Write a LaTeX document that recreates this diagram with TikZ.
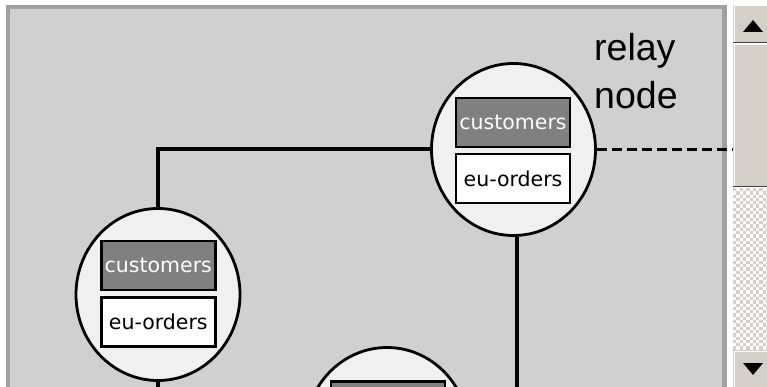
\documentclass[tikz,border=0pt]{standalone}
\usepackage{fontspec}
\newfontfamily\dejavu{DejaVu Sans}
\newfontfamily\libsans{Liberation Sans}
\usetikzlibrary{shapes.geometric}
\definecolor{panelfill}{HTML}{D0D0D0}
\definecolor{panelborder}{HTML}{A0A0A0}
\definecolor{nodefill}{HTML}{F0F0F0}
\definecolor{custfill}{HTML}{808080}
\definecolor{sbfill}{HTML}{D4D0C8}
\definecolor{sbdark}{HTML}{404040}
\begin{document}
\begin{tikzpicture}[x=1pt,y=-1pt,
  server/.style={ellipse, draw=black, line width=2.8pt, fill=nodefill, minimum width=164pt, minimum height=172pt, inner sep=0pt},
  custbox/.style={rectangle, draw=black, line width=2.5pt, fill=custfill, text=white, minimum width=114pt, minimum height=49pt, inner sep=0pt, font=\dejavu\fontsize{20.5}{24}\selectfont},
  eubox/.style={custbox, fill=white, text=black},
  link/.style={line width=4pt},
  relaylink/.style={line width=3.5pt, dash pattern=on 10pt off 5pt},
  sbbox/.style={fill=sbfill},
  sbhi/.style={draw=white, line width=1pt},
  sbline/.style={draw=sbdark, line width=1.2pt}
]
\useasboundingbox (0,0) rectangle (767,387);
\clip (0,0) rectangle (767,387);
\fill[white] (0,0) rectangle (767,387);
% panel
\fill[panelborder] (6,5) rectangle (727,390);
\fill[panelfill] (10,9) rectangle (722,390);
% scrollbar
\fill[sbbox] (733,5) rectangle (770,43);
\draw[sbhi] (734,43) -- (734,6) -- (770,6);
\draw[sbline] (733,42.5) -- (770,42.5);
\fill[black] (743,32) -- (763,32) -- (753,20) -- cycle;
\fill[sbbox] (733,44) rectangle (770,187);
\draw[sbhi] (734,186) -- (734,45) -- (770,45);
\draw[sbline] (733,186.8) -- (770,186.8);
\begin{scope}
\clip (733,188) rectangle (770,349);
\fill[white] (733,188) rectangle (770,349);
\foreach \j in {0,2,...,50} \foreach \i in {0,2,...,12} {
  \fill[sbfill] (733+\i*3.3, 188+\j*3.3) rectangle ++(3.3,3.3);
  \fill[sbfill] (736.3+\i*3.3, 191.3+\j*3.3) rectangle ++(3.3,3.3);
}
\end{scope}
\fill[sbbox] (733,350) rectangle (770,390);
\draw[sbhi] (734,390) -- (734,351) -- (770,351);
\fill[black] (743,363) -- (763,363) -- (753,375) -- cycle;
% servers
\node[server] (relay) at (513.5,149.5) {};
\node[custbox] (c1) at (513,122.5) {customers};
\node[eubox] (e1) at (513,178.5) {eu-orders};
\node[server] (left) at (158,294.5) {};
\node[custbox] (c2) at (158.3,265.5) {customers};
\node[eubox] (e2) at (158.3,322) {eu-orders};
\node[server] (bottom) at (387,433.5) {};
\node[custbox] (c3) at (388,406) {};
\node[eubox] (e3) at (388,462) {};
% connectors
\coordinate (relayout) at (732,149.5);
\coordinate (downR) at (517,392);
\coordinate (downL) at (158,392);
\draw[link] (left.north) |- (relay.west);
\draw[link] (relay.south -| downR) -- (downR);
\draw[link] (left.south) -- (downL);
\draw[relaylink] (relay.east) -- (relayout);
% label
\node[anchor=north west, inner sep=0pt, align=left, font=\libsans\fontsize{37.5}{48}\selectfont] (label) at (594,33) {relay\\node};
\end{tikzpicture}
\end{document}
